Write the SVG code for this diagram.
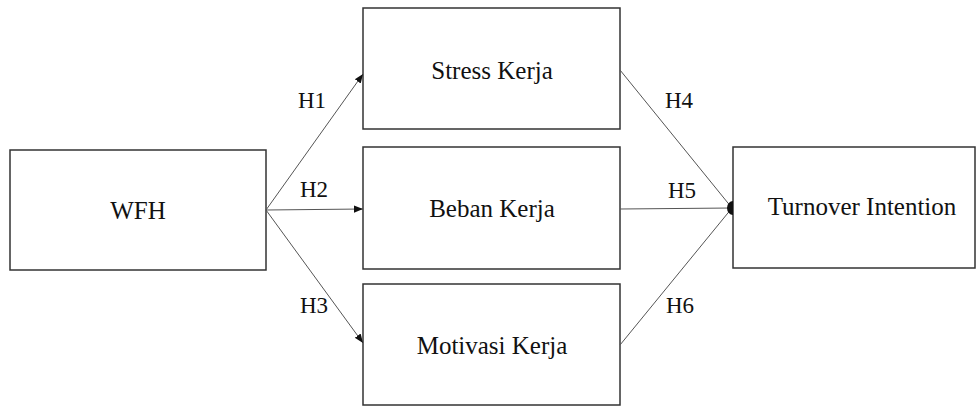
<svg xmlns="http://www.w3.org/2000/svg" width="977" height="406" viewBox="0 0 977 406">
<style>
.box{fill:#fff;stroke:#333;stroke-width:1.5}
.t{font-family:"Liberation Serif","Times New Roman",serif;font-size:25px;fill:#111}
.h{font-family:"Liberation Serif","Times New Roman",serif;font-size:23px;fill:#111}
.c{stroke:#555;stroke-width:1;fill:none}
</style>
<defs>
<marker id="ah" viewBox="0 0 10 10" refX="10" refY="5" markerWidth="9" markerHeight="9" markerUnits="userSpaceOnUse" orient="auto">
<path d="M0,1 L10,5 L0,9 Z" fill="#111"/>
</marker>
</defs>
<rect width="977" height="406" fill="#fff"/>
<g id="wfh"><rect class="box" x="10" y="150" width="256" height="120"/><text class="t" x="138" y="219" text-anchor="middle">WFH</text></g>
<g id="stress"><rect class="box" x="363" y="8" width="257" height="121"/><text class="t" x="492" y="79" text-anchor="middle">Stress Kerja</text></g>
<g id="beban"><rect class="box" x="363" y="147" width="257" height="122"/><text class="t" x="492" y="217" text-anchor="middle">Beban Kerja</text></g>
<g id="motivasi"><rect class="box" x="363" y="284" width="257" height="121"/><text class="t" x="492" y="354" text-anchor="middle">Motivasi Kerja</text></g>
<g id="turnover"><rect class="box" x="733" y="147" width="242" height="121"/><text class="t" x="862" y="215" text-anchor="middle">Turnover Intention</text></g>
<g id="connectors">
<line class="c" x1="266" y1="210" x2="363" y2="74" marker-end="url(#ah)"/>
<line class="c" x1="266" y1="210" x2="363" y2="209" marker-end="url(#ah)"/>
<line class="c" x1="266" y1="210" x2="363" y2="343" marker-end="url(#ah)"/>
<line class="c" x1="620" y1="70" x2="732" y2="208"/>
<line class="c" x1="620" y1="209" x2="732" y2="208"/>
<line class="c" x1="620" y1="345" x2="732" y2="208"/>
<path d="M733,201 A6,7 0 0 0 733,215 Z" fill="#111"/>
<text class="h" x="298" y="108">H1</text>
<text class="h" x="300" y="197">H2</text>
<text class="h" x="300" y="313">H3</text>
<text class="h" x="665" y="108">H4</text>
<text class="h" x="668" y="198">H5</text>
<text class="h" x="666" y="313">H6</text>
</g>
</svg>
